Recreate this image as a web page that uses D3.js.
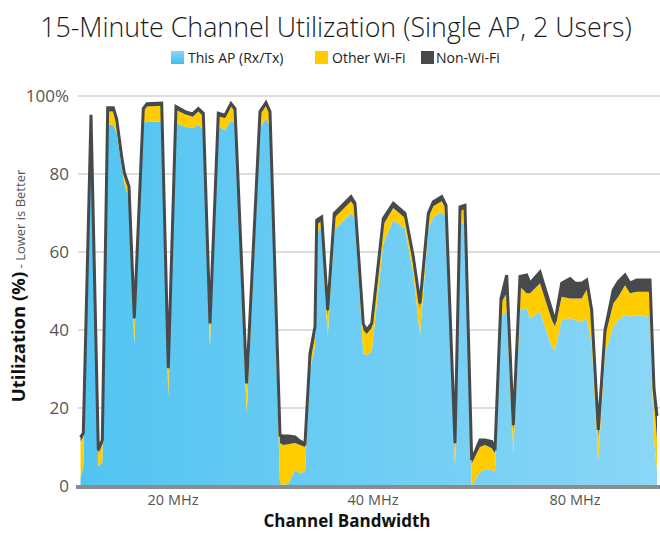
<!DOCTYPE html>
<html><head><meta charset="utf-8">
<script src="https://cdn.jsdelivr.net/npm/d3@7"></script>
<style>
html,body{margin:0;padding:0;background:#fff;}
svg{display:block;font-family:"Open Sans","Noto Sans",sans-serif;}
</style></head>
<body><svg id="chart" width="660" height="533"></svg>
<script>
// sample time (arbitrary units along the test timeline)
const t = [0.5,3.3,11,18.3,22.3,27.7,33.3,36.7,41.7,44.3,49,54.3,63.3,67,81.7,88.3,96,105,112.7,118.3,123.3,130,138.3,145,151,155,166.7,180,186,190,
  200,203.3,208,215,220,225,230,235,236.7,241.7,247.7,254.3,271,275,283.3,286.7,291.7,303.3,313.3,325,333.3,340,348.3,353.3,361.7,366,375,380,385,
  391.7,400,405,411.7,415,421,426.7,433.3,440,446.7,450,460,471.7,475,481.7,490,495,501.7,506.7,511.7,518.3,525,533.3,538.3,545,550,556.7,570,574,577];
const thisAP = [2,5,94,5,6,92.6,92.6,90.5,81.9,77.7,73.3,36.6,93,93.5,93.4,22.9,93,92.1,91.7,92.6,91.3,35.7,92.1,91.3,93.8,93,18.6,91.7,94.3,92,
  0.5,0.3,0.5,4.1,3.3,3.7,29.7,35.7,64.8,66.5,38.3,65.6,69.9,68.7,34,33.6,34.4,62.2,68.2,66,54.5,38.7,66,69,70.3,69,5,67.4,67.4,
  0,3.7,4.1,4.1,3.7,43.4,45.1,8.4,45.1,45.6,43,44.7,35.7,34.9,42.6,43,42.6,42.1,43,36.6,6.7,34,40.9,42.6,43.8,43.4,43.8,43.4,12,4];
const otherWifi = [9.5,7.6,0.5,3.5,4.8,3.4,3.4,2.5,1.6,1.8,2.7,4.9,3.0,3.8,4.1,6.6,3.5,3.2,3.0,3.4,3.5,5.3,2.7,3.0,3.5,3.0,6.9,3.5,3.2,3.2,
  10.5,10.2,10.2,6.9,7.2,6.3,1.8,2.8,2.2,1.5,5.2,3.1,3.1,2.8,6.0,5.4,6.1,4.8,3.1,2.7,3.0,6.8,2.7,2.7,2.7,2.0,4.5,3.1,3.6,
  5.8,6.3,6.4,5.6,4.7,3.5,4.3,5.4,6.0,3.8,6.4,7.3,6.9,6.0,5.9,5.1,5.5,6.0,7.3,6.8,5.9,4.3,5.9,5.9,7.7,6.0,6.0,6.4,10,8];
const nonWifi = [1.0,1.0,0.7,0.7,1.0,1.0,1.0,1.0,0.9,0.8,0.8,1.5,0.8,0.7,0.7,0.7,0.8,0.7,0.7,0.8,0.8,0.7,0.8,0.8,0.8,0.8,0.8,0.8,0.8,0.8,
  2.0,2.3,2.1,1.6,1.0,0.9,2.5,2.4,1.2,1.0,1.6,1.2,1.2,1.0,1.5,1.0,1.2,1.6,1.2,1.2,1.3,1.3,1.2,1.2,1.2,1.0,1.5,1.1,1.0,
  0.9,1.8,1.3,1.7,0.8,1.2,4.7,1.8,2.6,4.7,2.6,2.9,2.5,1.2,3.5,5.1,3.9,3.9,2.5,1.7,1.8,1.7,3.5,3.9,2.6,2.6,3.0,3.0,3,6];
const seriesNames = ["This AP (Rx/Tx)","Other Wi-Fi","Non-Wi-Fi"];
const seriesColors = ["#5ac8f2","#ffcc00","#474a4c"];
const yTicks = [0,20,40,60,80,100];
const xLabels = ["20 MHz","40 MHz","80 MHz"];
const xLabelPos = [93,293,495];

const svg = d3.select("#chart");
const m = {left:80, right:3, top:96, bottom:47};
const W = 660, H = 533;
const x = d3.scaleLinear().domain([0,577]).range([m.left, W-m.right]);
const y = d3.scaleLinear().domain([0,100]).range([H-m.bottom, m.top]);

const rows = t.map((v,i)=>({t:v, a:thisAP[i], b:otherWifi[i], c:nonWifi[i]}));
const stack = d3.stack().keys(["a","b","c"])(rows);

// gradient for blue
const defs = svg.append("defs");
const g = defs.append("linearGradient").attr("id","blueGrad").attr("gradientUnits","userSpaceOnUse")
  .attr("x1",x(0)).attr("x2",x(577)).attr("y1",0).attr("y2",0);
g.append("stop").attr("offset","0%").attr("stop-color","#52c4f1");
g.append("stop").attr("offset","100%").attr("stop-color","#8ad6f6");
const lg = defs.append("linearGradient").attr("id","legGrad").attr("x1",0).attr("x2",0).attr("y1",0).attr("y2",1);
lg.append("stop").attr("offset","0%").attr("stop-color","#8ad6f6");
lg.append("stop").attr("offset","100%").attr("stop-color","#3fbdee");

// title
const title = svg.append("text").attr("x",336).attr("y",37).attr("text-anchor","middle")
  .attr("font-size",26).attr("font-weight",300).attr("fill","#1a1a1a")
  .text("15-Minute Channel Utilization (Single AP, 2 Users)");
const tw = title.node().getComputedTextLength();
title.attr("font-size", 26*592/tw);

// legend
const legX = [171,315,421];
seriesNames.forEach((n,i)=>{
  svg.append("rect").attr("x",legX[i]).attr("y",51).attr("width",13).attr("height",13)
    .attr("fill", i===0 ? "url(#legGrad)" : seriesColors[i]);
  svg.append("text").attr("x",legX[i]+(i===2?15:17)).attr("y",62.5).attr("font-size",14).attr("fill","#222").text(n);
});

// grid
svg.append("g").selectAll("line").data(yTicks.filter(d=>d>0)).join("line")
  .attr("x1",78).attr("x2",660).attr("y1",d=>y(d)).attr("y2",d=>y(d))
  .attr("stroke","#d2d2d2").attr("stroke-width",1.5);

// areas
const area = d3.area().x(d=>x(d.data.t)).y0(d=>y(d[0])).y1(d=>y(d[1]));
const fills = ["url(#blueGrad)", seriesColors[1], seriesColors[2]];
svg.append("g").selectAll("path").data(stack).join("path")
  .attr("d",area).attr("fill",(d,i)=>fills[i]);

// top outline
const line = d3.line().x(d=>x(d.data.t)).y(d=>y(d[1]));
svg.append("path").datum(stack[2]).attr("d",line).attr("fill","none")
  .attr("stroke","#474a4c").attr("stroke-width",3).attr("stroke-linejoin","miter").attr("stroke-miterlimit",3);

// baseline
svg.append("line").attr("x1",76).attr("x2",660).attr("y1",y(0)+1).attr("y2",y(0)+1)
  .attr("stroke","#8c8c8c").attr("stroke-width",4);

// y tick labels
svg.append("g").selectAll("text").data(yTicks).join("text")
  .attr("x",69).attr("y",d=>y(d)+6).attr("text-anchor","end")
  .attr("font-size",17).attr("fill","#555")
  .text(d=>d===100?"100%":d);

// x labels
svg.append("g").selectAll("text").data(xLabels).join("text")
  .attr("x",(d,i)=>x(xLabelPos[i])).attr("y",505).attr("text-anchor","middle")
  .attr("font-size",14.5).attr("fill","#555").text(d=>d);

svg.append("text").attr("x",347).attr("y",527).attr("text-anchor","middle")
  .attr("font-size",17).attr("font-weight",700).attr("fill","#111").text("Channel Bandwidth");

// y title
const yt = svg.append("text").attr("transform","translate(25,286) rotate(-90)").attr("text-anchor","middle");
yt.append("tspan").attr("font-size",18.5).attr("font-weight",700).attr("fill","#111").text("Utilization (%)");
yt.append("tspan").attr("font-size",13).attr("fill","#555").text(" - Lower is Better");
</script></body></html>
